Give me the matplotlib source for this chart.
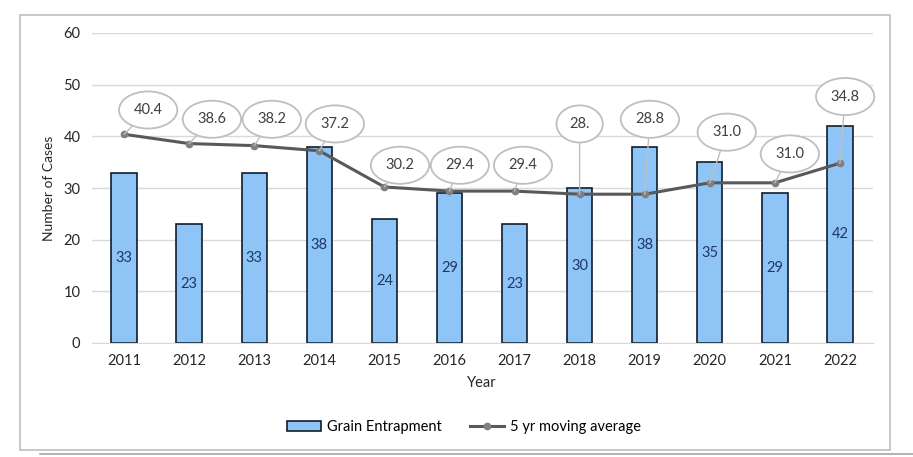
import numpy as np
import matplotlib.pyplot as plt
from matplotlib.patches import Rectangle
from matplotlib.lines import Line2D

plt.rcParams['font.family'] = ['Lato', 'DejaVu Sans']

# data
years = ['2011', '2012', '2013', '2014', '2015', '2016',
         '2017', '2018', '2019', '2020', '2021', '2022']
cases = [33, 23, 33, 38, 24, 29, 23, 30, 38, 35, 29, 42]
moving_avg = [40.4, 38.6, 38.2, 37.2, 30.2, 29.4, 29.4, 28.8, 28.8, 31.0, 31.0, 34.8]
avg_labels = ['40.4', '38.6', '38.2', '37.2', '30.2', '29.4',
              '29.4', '28.', '28.8', '31.0', '31.0', '34.8']

# where the callout bubbles sit (x offset in categories, y in data units)
bubble_dx = [0.37, 0.35, 0.27, 0.24, 0.24, 0.16, 0.13, 0.0, 0.08, 0.26, 0.23, 0.08]
bubble_y = [45.1, 43.3, 43.3, 42.4, 34.4, 34.4, 34.4, 42.4, 43.3, 40.8, 36.6, 47.7]

W, H = 913, 457
fig = plt.figure(figsize=(W / 100, H / 100), dpi=100)
ax = fig.add_axes([91.5 / W, 1 - 343 / H, 781 / W, 310 / H])

x = np.arange(len(years))
ax.bar(x, cases, width=0.39, color='#8FC4F7', edgecolor='#0F1E2E',
       linewidth=1.2, zorder=2, label='Grain Entrapment')
for xi, v in zip(x, cases):
    ax.text(xi, v / 2, str(v), ha='center', va='center', fontsize=10.5,
            color='#1F3864', zorder=3)

ax.plot(x, moving_avg, color='#595959', linewidth=2.2, marker='o',
        markersize=4.5, markerfacecolor='#7F7F7F', markeredgecolor='#7F7F7F',
        zorder=4, label='5 yr moving average')

for xi, v, lab, dx, by in zip(x, moving_avg, avg_labels, bubble_dx, bubble_y):
    ax.annotate(lab, xy=(xi, v), xytext=(xi + dx, by), ha='center', va='center',
                fontsize=10.5, color='#404040', zorder=5,
                bbox=dict(boxstyle='ellipse,pad=0.42', fc='white', ec='#BFBFBF', lw=1.3),
                arrowprops=dict(arrowstyle='-', color='#BFBFBF', lw=1.0,
                                shrinkA=0, shrinkB=0))

ax.set_xlim(-0.5, len(years) - 0.5)
ax.set_ylim(0, 60)
ax.set_yticks(range(0, 61, 10))
ax.set_xticks(x)
ax.set_xticklabels(years)
ax.tick_params(length=0, labelsize=10.5, colors='#262626', pad=8)
ax.grid(axis='y', color='#D9D9D9', linewidth=1, zorder=0)
for s in ['top', 'right', 'left']:
    ax.spines[s].set_visible(False)
ax.spines['bottom'].set_color('#D9D9D9')
ax.set_ylabel('Number of Cases', fontsize=10, color='#262626', labelpad=6)
ax.set_xlabel('Year', fontsize=10.5, color='#262626', labelpad=6)

handles = [Rectangle((0, 0), 1, 1, fc='#8FC4F7', ec='#0F1E2E', lw=1.2),
           Line2D([], [], color='#595959', lw=2.2, marker='o', markersize=4.5,
                  markerfacecolor='#7F7F7F', markeredgecolor='#7F7F7F')]
fig.legend(handles, ['Grain Entrapment', '5 yr moving average'], loc='center',
           bbox_to_anchor=(464 / W, 1 - 427 / H), ncol=2, frameon=False,
           fontsize=10.5, handlelength=2.3, columnspacing=2.0, handletextpad=0.4)

# chart border
fig.patches.append(Rectangle((20 / W, 1 - 450 / H), 870 / W, 435 / H,
                             transform=fig.transFigure, fill=False,
                             ec='#BFBFBF', lw=1.2))
fig.lines.append(Line2D([40 / W, 1], [1 - 454 / H] * 2, transform=fig.transFigure,
                        color='#A6A6A6', lw=1.2))

fig.savefig('out.png', dpi=100)
